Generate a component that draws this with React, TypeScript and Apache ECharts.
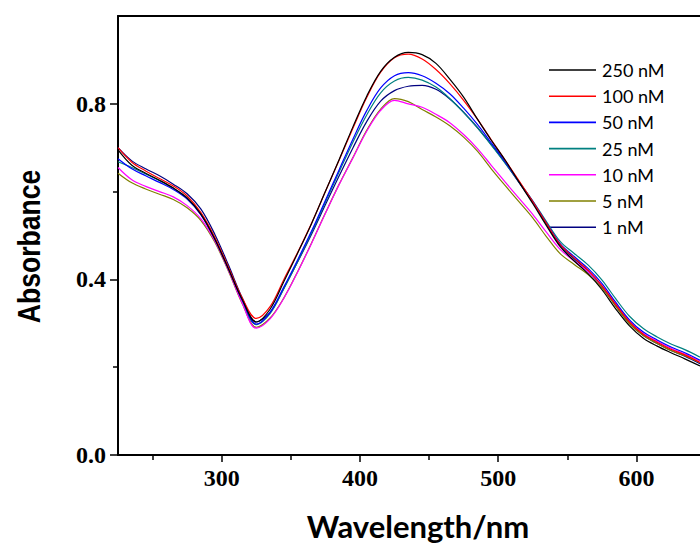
import React, { useEffect, useRef } from "react";
import * as echarts from "echarts";

// Wavelength grid (nm)
const wavelengths = [225, 235, 245, 255, 265, 275, 285, 295, 305, 315, 325, 335, 345, 355, 365, 375, 385, 395, 405, 415, 425, 435, 445, 455, 465, 475, 485, 495, 505, 515, 525, 535, 545, 555, 565, 575, 585, 595, 605, 615, 625, 635, 646];

const abs250 = [0.695, 0.660, 0.642, 0.626, 0.608, 0.585, 0.548, 0.492, 0.423, 0.353, 0.303, 0.332, 0.395, 0.460, 0.527, 0.600, 0.673, 0.748, 0.818, 0.874, 0.906, 0.917, 0.912, 0.892, 0.856, 0.815, 0.765, 0.717, 0.672, 0.622, 0.573, 0.522, 0.474, 0.442, 0.413, 0.377, 0.333, 0.294, 0.266, 0.248, 0.233, 0.219, 0.203];
const abs100 = [0.700, 0.667, 0.647, 0.630, 0.613, 0.590, 0.552, 0.496, 0.427, 0.357, 0.311, 0.338, 0.400, 0.462, 0.528, 0.600, 0.672, 0.745, 0.815, 0.872, 0.905, 0.913, 0.902, 0.878, 0.846, 0.808, 0.765, 0.718, 0.672, 0.625, 0.577, 0.527, 0.479, 0.449, 0.421, 0.386, 0.343, 0.303, 0.275, 0.257, 0.241, 0.228, 0.211];
const abs50 = [0.675, 0.652, 0.636, 0.621, 0.605, 0.583, 0.547, 0.492, 0.424, 0.352, 0.298, 0.325, 0.383, 0.445, 0.510, 0.580, 0.650, 0.720, 0.785, 0.836, 0.864, 0.871, 0.864, 0.847, 0.823, 0.790, 0.753, 0.711, 0.668, 0.623, 0.578, 0.528, 0.481, 0.452, 0.425, 0.391, 0.348, 0.308, 0.280, 0.262, 0.246, 0.233, 0.216];
const abs25 = [0.668, 0.655, 0.640, 0.625, 0.608, 0.586, 0.550, 0.494, 0.425, 0.353, 0.297, 0.322, 0.379, 0.441, 0.506, 0.576, 0.645, 0.713, 0.775, 0.825, 0.852, 0.860, 0.854, 0.838, 0.812, 0.780, 0.745, 0.706, 0.665, 0.622, 0.579, 0.531, 0.486, 0.459, 0.433, 0.399, 0.356, 0.316, 0.288, 0.269, 0.253, 0.240, 0.223];
const abs10 = [0.655, 0.627, 0.612, 0.600, 0.588, 0.568, 0.538, 0.488, 0.420, 0.345, 0.289, 0.310, 0.357, 0.417, 0.482, 0.550, 0.616, 0.677, 0.738, 0.785, 0.808, 0.800, 0.792, 0.776, 0.757, 0.730, 0.698, 0.660, 0.622, 0.585, 0.548, 0.507, 0.468, 0.442, 0.418, 0.386, 0.344, 0.305, 0.277, 0.259, 0.243, 0.230, 0.214];
const abs5 = [0.642, 0.620, 0.606, 0.594, 0.582, 0.563, 0.534, 0.485, 0.418, 0.344, 0.291, 0.312, 0.358, 0.418, 0.483, 0.551, 0.617, 0.678, 0.740, 0.788, 0.812, 0.805, 0.787, 0.770, 0.750, 0.724, 0.692, 0.652, 0.614, 0.577, 0.540, 0.497, 0.458, 0.434, 0.411, 0.381, 0.339, 0.299, 0.272, 0.254, 0.238, 0.226, 0.210];
const abs1 = [0.700, 0.670, 0.652, 0.636, 0.617, 0.595, 0.560, 0.503, 0.432, 0.357, 0.303, 0.325, 0.380, 0.440, 0.503, 0.570, 0.636, 0.700, 0.760, 0.806, 0.830, 0.840, 0.842, 0.833, 0.811, 0.781, 0.746, 0.707, 0.666, 0.621, 0.576, 0.526, 0.477, 0.447, 0.419, 0.384, 0.340, 0.300, 0.272, 0.254, 0.238, 0.225, 0.208];

const seriesNames = ["250 nM", "100 nM", "50 nM", "25 nM", "10 nM", "5 nM", "1 nM"];
const seriesValues = [abs250, abs100, abs50, abs25, abs10, abs5, abs1];
const seriesColors = ["#000000", "#FF0000", "#0000FF", "#008080", "#FF00FF", "#808000", "#000080"];

const xTickLabels = [300, 400, 500, 600];
const xMinorTicks = [250, 350, 450, 550];
const yTickLabels = [0, 0.4, 0.8];
const yMinorTicks = [0.2, 0.6];

const xTitle = "Wavelength/nm";
const yTitle = "Absorbance";

export default function App() {
  const ref = useRef<HTMLDivElement>(null);

  useEffect(() => {
    const chart = echarts.init(ref.current!, null, { renderer: "svg" });
    const serifLabel = {
      fontFamily: '"Liberation Serif", "Times New Roman", serif',
      fontWeight: "bold" as const,
      fontSize: 24,
      color: "#000",
    };
    const xCommon = { type: "value" as const, min: 225, max: 646, gridIndex: 0, splitLine: { show: false } };
    const yCommon = { type: "value" as const, min: 0, max: 1.0, gridIndex: 0, splitLine: { show: false } };

    chart.setOption({
      animation: false,
      backgroundColor: "#ffffff",
      grid: { left: 118, top: 16, right: 0, bottom: 92, containLabel: false, outerBoundsMode: "none" },
      xAxis: [
        {
          ...xCommon,
          position: "bottom",
          axisLine: { show: true, onZero: false, lineStyle: { color: "#000", width: 2 } },
          axisTick: { show: true, customValues: xTickLabels, length: 7, inside: false, lineStyle: { color: "#000", width: 1.5 } },
          axisLabel: { ...serifLabel, customValues: xTickLabels, margin: 11 },
        },
        {
          ...xCommon,
          position: "bottom",
          axisLine: { show: false, onZero: false },
          axisTick: { show: true, customValues: xMinorTicks, length: 5, inside: false, lineStyle: { color: "#000", width: 1.5 } },
          axisLabel: { show: false },
        },
        {
          ...xCommon,
          position: "top",
          axisLine: { show: true, onZero: false, lineStyle: { color: "#000", width: 2 } },
          axisTick: { show: false },
          axisLabel: { show: false },
        },
      ],
      yAxis: [
        {
          ...yCommon,
          position: "left",
          axisLine: { show: true, onZero: false, lineStyle: { color: "#000", width: 2 } },
          axisTick: { show: true, customValues: yTickLabels, length: 8, inside: false, lineStyle: { color: "#000", width: 1.5 } },
          axisLabel: {
            ...serifLabel,
            customValues: yTickLabels,
            margin: 12,
            formatter: (v: number) => v.toFixed(1),
          },
        },
        {
          ...yCommon,
          position: "left",
          axisLine: { show: false, onZero: false },
          axisTick: { show: true, customValues: yMinorTicks, length: 5, inside: false, lineStyle: { color: "#000", width: 1.5 } },
          axisLabel: { show: false },
        },
      ],
      legend: {
        show: true,
        orient: "vertical",
        left: 549,
        top: 61,
        padding: 0,
        icon: "rect",
        itemWidth: 47,
        itemHeight: 1.6,
        itemGap: 8.2,
        data: seriesNames,
        textStyle: { fontFamily: "Lato", fontSize: 18, color: "#000", padding: [0, 0, 0, 1] },
      },
      series: seriesNames.map((name, i) => ({
        name,
        type: "line",
        xAxisIndex: 0,
        yAxisIndex: 0,
        data: wavelengths.map((w, j) => [w, seriesValues[i][j]]),
        smooth: 0.35,
        symbol: "none",
        showSymbol: false,
        lineStyle: { color: seriesColors[i], width: 1.2 },
        itemStyle: { color: seriesColors[i] },
        z: 10 - i,
      })),
      graphic: [
        {
          type: "text",
          x: 28.5,
          y: 246.5,
          rotation: Math.PI / 2,
          scaleX: 0.83,
          style: {
            text: yTitle,
            fontFamily: '"Liberation Sans", Arial, sans-serif',
            fontWeight: "bold",
            fontSize: 32,
            fill: "#000",
            align: "center",
            verticalAlign: "middle",
          },
        },
        {
          type: "text",
          x: 418,
          y: 526,
          style: {
            text: xTitle,
            fontFamily: "Lato",
            fontWeight: "bold",
            fontSize: 31,
            fill: "#000",
            align: "center",
            verticalAlign: "middle",
          },
        },
      ],
    });
    return () => chart.dispose();
  }, []);

  return (
    <div
      ref={ref}
      style={{ position: "absolute", left: 0, top: 0, width: 700, height: 547, background: "#fff" }}
    />
  );
}
